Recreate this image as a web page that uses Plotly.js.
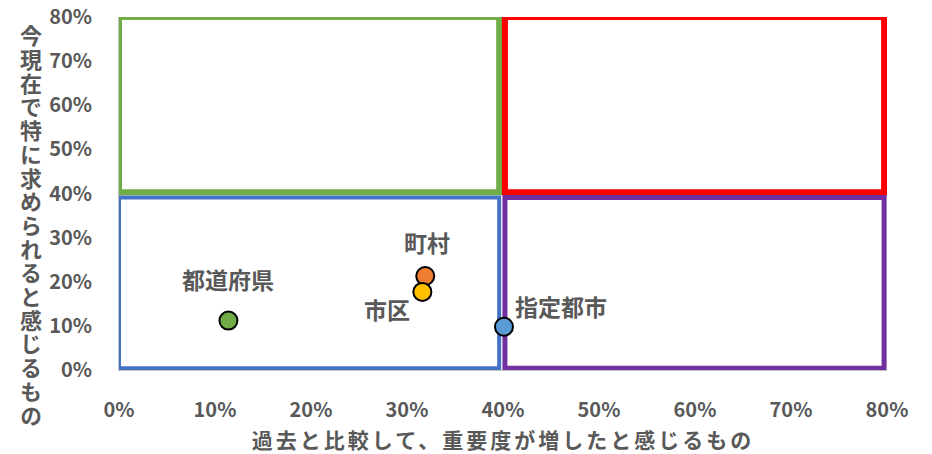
<!DOCTYPE html>
<html>
<head>
<meta charset="utf-8">
<script src="https://cdn.plot.ly/plotly-3.0.1.min.js"></script>
<style>
  html, body { margin: 0; padding: 0; background: #fff; }
  #chart { width: 932px; height: 454px; }
  .g-xtitle text { letter-spacing: 3px; }
</style>
</head>
<body>
<div id="chart"></div>
<script>
// ---- data ----
const categories = ['都道府県', '町村', '市区', '指定都市'];
const xValues = [11.4, 31.9, 31.6, 40.1];   // 過去と比較して、重要度が増したと感じるもの (%)
const yValues = [11.2, 21.3, 17.7, 9.8];    // 今現在で特に求められると感じるもの (%)
const tickValues = [0, 10, 20, 30, 40, 50, 60, 70, 80];
const tickLabels = ['0%', '10%', '20%', '30%', '40%', '50%', '60%', '70%', '80%'];
const xTitle = '過去と比較して、重要度が増したと感じるもの';
const yTitle = '今現在で特に求められると感じるもの';

// ---- styles ----
const pointColors = ['#70AD47', '#ED7D31', '#FFC000', '#5B9BD5'];
const labelShift = [[0, 42], [2, 34], [-35, -17], [57, 21]];
const FONT = '"Noto Sans CJK JP", "Noto Sans", sans-serif';
const GREY = '#595959';

const trace = {
  type: 'scatter',
  mode: 'markers',
  x: xValues,
  y: yValues,
  text: categories,
  hoverinfo: 'text',
  cliponaxis: false,
  marker: { size: 18, color: pointColors, line: { color: '#000000', width: 2 } },
  showlegend: false
};

const annotations = categories.map((c, i) => ({
  x: xValues[i], y: yValues[i], xref: 'x', yref: 'y',
  text: c, showarrow: false,
  xshift: labelShift[i][0], yshift: labelShift[i][1],
  xanchor: 'center', yanchor: 'middle',
  font: { family: FONT, size: 23, color: GREY, weight: 'bold' }
}));

// y-axis title: written vertically (upright characters) after drawing
annotations.push({
  xref: 'paper', yref: 'paper',
  x: (31 - 119) / 768, y: 0.5,
  xanchor: 'center', yanchor: 'middle',
  text: yTitle, showarrow: false, name: 'ytitle',
  font: { family: FONT, size: 22, color: GREY, weight: 'bold' }
});

function quad(x0, x1, y0, y1, color, w) {
  return { type: 'rect', xref: 'x', yref: 'y', x0, x1, y0, y1, layer: 'below',
           line: { color, width: w }, fillcolor: 'rgba(0,0,0,0)' };
}

const layout = {
  width: 932, height: 454,
  margin: { l: 119, r: 45, t: 17, b: 84 },
  paper_bgcolor: '#ffffff', plot_bgcolor: '#ffffff',
  font: { family: FONT, color: GREY },
  xaxis: {
    range: [0, 80], tickvals: tickValues, ticktext: tickLabels,
    showgrid: false, zeroline: false, showline: true, linecolor: '#BFBFBF', linewidth: 1,
    ticks: '', ticklabelstandoff: 22,
    tickfont: { family: FONT, size: 20, color: GREY, weight: 'bold' },
    title: { text: xTitle, standoff: 15, font: { family: FONT, size: 21, color: GREY, weight: 'bold' } },
    automargin: false, fixedrange: true
  },
  yaxis: {
    range: [0, 80], tickvals: tickValues, ticktext: tickLabels,
    showgrid: false, zeroline: false, showline: true, linecolor: '#BFBFBF', linewidth: 1,
    ticks: '', ticklabelstandoff: 22,
    tickfont: { family: FONT, size: 20, color: GREY, weight: 'bold' },
    automargin: false, fixedrange: true
  },
  shapes: [
    quad(0, 39.6, 40.3, 80, '#70AD47', 6),
    quad(40.2, 79.7, 40.3, 80, '#FF0000', 6),
    quad(0, 39.6, 0.4, 39.1, '#4472C4', 4),
    quad(40.2, 79.7, 0.4, 39.1, '#7030A0', 5)
  ],
  annotations: annotations
};

Plotly.newPlot('chart', [trace], layout, { displayModeBar: false, staticPlot: true }).then(() => {
  const host = document.getElementById('chart').getBoundingClientRect();
  document.querySelectorAll('#chart .annotation-text').forEach(t => {
    if (t.textContent !== yTitle) return;
    t.style.writingMode = 'vertical-rl';
    t.style.letterSpacing = '1.7px';
    t.setAttribute('text-anchor', 'start');
    t.querySelectorAll('tspan').forEach(s => s.setAttribute('text-anchor', 'start'));
    const r = t.getBoundingClientRect();
    const dx = 31 - (r.left - host.left + r.width / 2);
    const dy = 25 - (r.top - host.top);
    const prev = t.getAttribute('transform') || '';
    t.setAttribute('transform', `translate(${dx},${dy}) ${prev}`);
  });
});
</script>
</body>
</html>
